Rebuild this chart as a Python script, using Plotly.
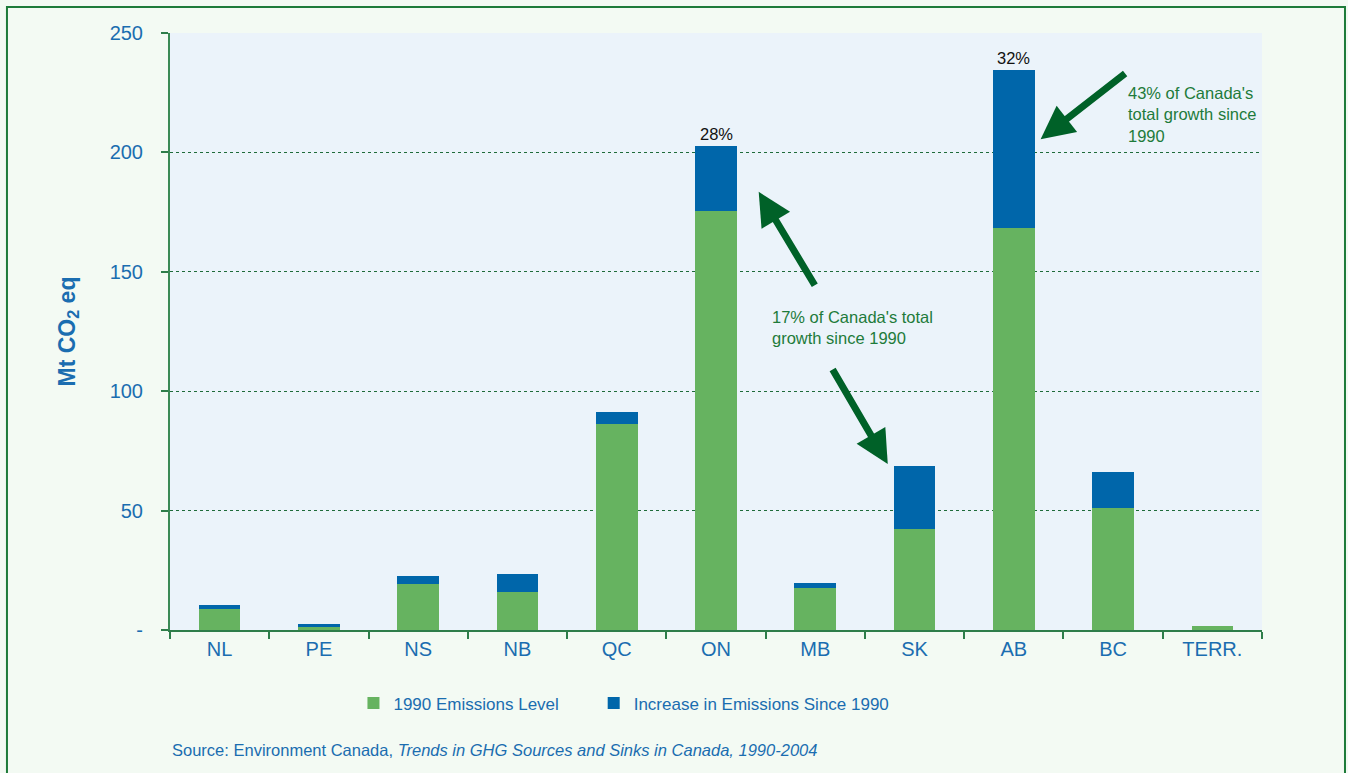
import plotly.graph_objects as go

# Provincial GHG emissions, Mt CO2 eq
provinces = ["NL", "PE", "NS", "NB", "QC", "ON", "MB", "SK", "AB", "BC", "TERR."]
level_1990 = [8.8, 1.3, 19.3, 15.9, 86.3, 175.5, 17.6, 42.3, 168.3, 51.1, 1.7]
increase_since_1990 = [1.7, 1.2, 3.3, 7.5, 5.0, 27.2, 2.1, 26.4, 66.2, 15.1, 0.0]
share_labels = {"ON": "28%", "AB": "32%"}

y_tickvals = [0, 50, 100, 150, 200, 250]
y_ticktext = ["-", "50", "100", "150", "200", "250"]

GREEN = "#66B360"
BLUE = "#0066AA"
TEXT_BLUE = "#1A6DB0"
DARK_GREEN = "#006128"
NOTE_GREEN = "#1E7B3A"
FONT = "Liberation Sans, Arial, sans-serif"

fig = go.Figure()
fig.add_trace(go.Bar(
    x=provinces, y=level_1990, name="1990 Emissions Level",
    marker=dict(color=GREEN, line=dict(width=0)), legend="legend",
))
fig.add_trace(go.Bar(
    x=provinces, y=increase_since_1990, name="Increase in Emissions Since 1990",
    marker=dict(color=BLUE, line=dict(width=0)), legend="legend2",
))

annotations = []
totals = [a + b for a, b in zip(level_1990, increase_since_1990)]
for prov, label in share_labels.items():
    i = provinces.index(prov)
    annotations.append(dict(
        x=prov, y=totals[i], text=label, showarrow=False, yanchor="bottom", yshift=1,
        font=dict(family=FONT, size=16.5, color="#111111"),
    ))

# Arrows pointing to ON, SK and AB
arrow_style = dict(showarrow=True, text="", arrowhead=2, arrowsize=0.95, arrowwidth=7,
                   arrowcolor=DARK_GREEN, standoff=0, axref="pixel", ayref="pixel")
annotations.append(dict(x=5.43, y=183.5, ax=57, ay=95, **arrow_style))
annotations.append(dict(x=6.73, y=69.5, ax=-56, ay=-96, **arrow_style))
annotations.append(dict(x=8.27, y=205.5, ax=86, ay=-67, **arrow_style))

note_font = dict(family=FONT, size=16.5, color=NOTE_GREEN)
annotations.append(dict(
    x=5.54, y=135.5, xanchor="left", yanchor="top", align="left", showarrow=False,
    text="17% of Canada's total<br>growth since 1990", font=note_font,
))
annotations.append(dict(
    x=9.13, y=229.5, xanchor="left", yanchor="top", align="left", showarrow=False,
    text="43% of Canada's<br>total growth since<br>1990", font=note_font,
))

# Source line
annotations.append(dict(
    xref="paper", yref="paper", x=0.0, y=-0.201, xanchor="left", yanchor="middle",
    showarrow=False, align="left",
    text="Source: Environment Canada, <i>Trends in GHG Sources and Sinks in Canada, 1990-2004</i>",
    font=dict(family=FONT, size=16.5, color=TEXT_BLUE),
))

legend_common = dict(
    orientation="h", xanchor="left", y=-0.093, yanchor="top", itemwidth=30,
    font=dict(family=FONT, size=17, color=TEXT_BLUE), bgcolor="rgba(0,0,0,0)",
)

fig.update_layout(
    width=1348, height=773,
    margin=dict(l=170, r=86, t=33, b=143),
    barmode="stack", bargap=0.58,
    paper_bgcolor="#F3FAF3", plot_bgcolor="#EBF3FA",
    font=dict(family=FONT, color=TEXT_BLUE),
    showlegend=True,
    legend=dict(x=0.168, **legend_common),
    legend2=dict(x=0.388, **legend_common),
    annotations=annotations,
    shapes=[dict(
        type="rect", xref="paper", yref="paper",
        x0=-0.1493, x1=1.076, y0=-0.26, y1=1.0436,
        line=dict(color="#1E7B3A", width=2), fillcolor="rgba(0,0,0,0)", layer="below",
    )],
)

fig.update_xaxes(
    showline=True, linecolor="#2E7D4A", linewidth=2,
    ticks="outside", ticklen=7, tickwidth=2, tickcolor="#2E7D4A",
    tickson="boundaries",
    tickfont=dict(family=FONT, size=20, color=TEXT_BLUE),
    showgrid=False,
)
fig.update_yaxes(
    range=[0, 250], tickvals=y_tickvals, ticktext=y_ticktext,
    showline=True, linecolor="#3A8A55", linewidth=2,
    ticks="outside", ticklen=7, tickwidth=2, tickcolor="#2E7D4A",
    ticklabelstandoff=14,
    tickfont=dict(family=FONT, size=20, color=TEXT_BLUE),
    showgrid=True, gridcolor="#1F6B3A", gridwidth=1.3, griddash="dot",
    zeroline=False,
    title=dict(text="<b>Mt CO<sub>2</sub> eq</b>", standoff=28,
               font=dict(family=FONT, size=23, color=TEXT_BLUE)),
)

fig.write_html("out.html")
